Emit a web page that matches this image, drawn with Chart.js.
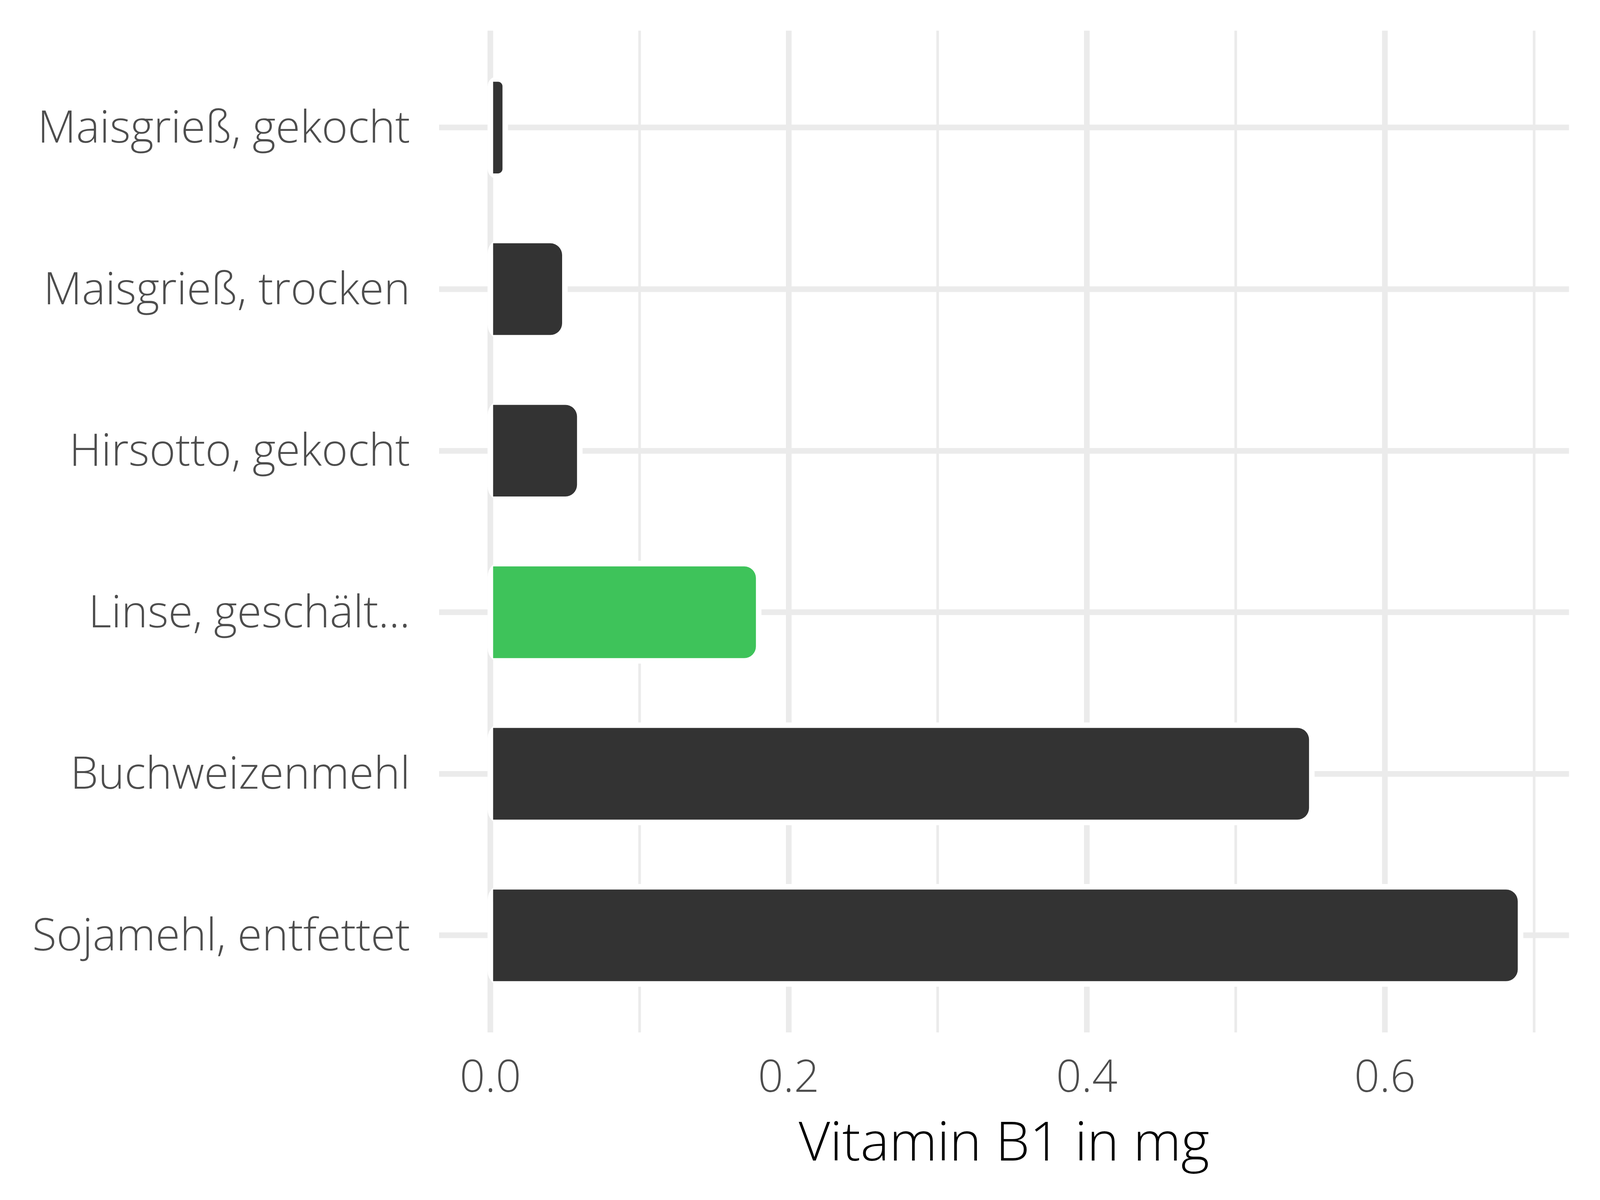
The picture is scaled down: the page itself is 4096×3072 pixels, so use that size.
<!DOCTYPE html>
<html>
<head>
<meta charset="utf-8">
<script src="https://cdn.jsdelivr.net/npm/chart.js@4.4.1/dist/chart.umd.min.js"></script>
<style>
  html, body { margin: 0; padding: 0; background: #ffffff; }
  canvas { display: block; }
</style>
</head>
<body>
<canvas id="chart" width="4096" height="3072"></canvas>
<script>
// Data
const categories = ['Maisgrieß, gekocht', 'Maisgrieß, trocken', 'Hirsotto, gekocht', 'Linse, geschält...', 'Buchweizenmehl', 'Sojamehl, entfettet'];
const values = [0.008, 0.048, 0.058, 0.178, 0.549, 0.689];
const barColors = ['#333333', '#333333', '#333333', '#3ec35a', '#333333', '#333333'];
const majorTicks = [0, 0.2, 0.4, 0.6];
const minorTicks = [0.1, 0.3, 0.5, 0.7];
const xTitle = 'Vitamin B1 in mg';

// ggplot-like 5% expansion of the value axis
const vMax = Math.max(...values);
const xMin = -0.05 * vMax;
const xMax = vMax * 1.05;

const fontFamily = "'Open Sans', 'Noto Sans', sans-serif";
const labelFont = { family: fontFamily, size: 114, weight: '300' };

// white outline around the bars (cuts the grid lines like the original)
const haloPlugin = {
    id: 'halo',
    beforeDatasetsDraw(chart) {
        const ctx = chart.ctx;
        const pad = 14.5;
        ctx.save();
        ctx.fillStyle = '#ffffff';
        chart.getDatasetMeta(0).data.forEach(bar => {
            const p = bar.getProps(['x', 'y', 'base', 'height'], true);
            const left = Math.min(p.base, p.x) - pad;
            const right = Math.max(p.base, p.x) + pad;
            const top = p.y - p.height / 2 - pad;
            ctx.beginPath();
            ctx.roundRect(left, top, right - left, p.height + 2 * pad, 40);
            ctx.fill();
        });
        ctx.restore();
    }
};

new Chart(document.getElementById('chart'), {
    type: 'bar',
    data: {
        datasets: [{
            data: values.map((v, i) => ({ x: v, y: i })),
            backgroundColor: barColors,
            borderWidth: 0,
            borderRadius: 30,
            borderSkipped: 'start',
            barThickness: 234
        }]
    },
    options: {
        indexAxis: 'y',
        responsive: false,
        animation: false,
        devicePixelRatio: 1,
        layout: { padding: { top: 78.5, right: 79.4, bottom: 0, left: 0 } },
        plugins: {
            legend: { display: false },
            tooltip: { enabled: false }
        },
        scales: {
            x: {
                type: 'linear',
                min: xMin,
                max: xMax,
                afterBuildTicks: scale => {
                    scale.ticks = majorTicks.concat(minorTicks).sort((a, b) => a - b).map(v => ({ value: v }));
                },
                afterFit: scale => {
                    scale.height = 429.4;
                    scale.paddingLeft = 0;
                    scale.paddingRight = 0;
                },
                grid: {
                    color: '#ebebeb',
                    lineWidth: ctx => majorTicks.includes(ctx.tick.value) ? 14.5 : 6.8,
                    drawTicks: false
                },
                border: { display: false },
                ticks: {
                    callback: v => majorTicks.includes(v) ? v.toFixed(1) : '',
                    color: '#4d4d4d',
                    font: labelFont,
                    padding: 52,
                    maxRotation: 0,
                    autoSkip: false
                },
                title: {
                    display: true,
                    text: xTitle,
                    color: '#000000',
                    font: { family: fontFamily, size: 139, weight: '300' },
                    padding: { top: 0, bottom: 57 }
                }
            },
            y: {
                type: 'linear',
                offset: false,
                min: -0.6,
                max: categories.length - 0.4,
                reverse: true,
                afterBuildTicks: scale => {
                    scale.ticks = categories.map((c, i) => ({ value: i }));
                },
                afterFit: scale => {
                    scale.width = 1124;
                    scale.paddingTop = 0;
                    scale.paddingBottom = 0;
                },
                grid: { color: '#ebebeb', lineWidth: 14.5, drawTicks: false, offset: false },
                border: { display: false },
                ticks: {
                    callback: v => categories[v],
                    color: '#4d4d4d',
                    font: labelFont,
                    padding: 74,
                    labelOffset: 6,
                    autoSkip: false
                }
            }
        }
    },
    plugins: [haloPlugin]
});
</script>
</body>
</html>
